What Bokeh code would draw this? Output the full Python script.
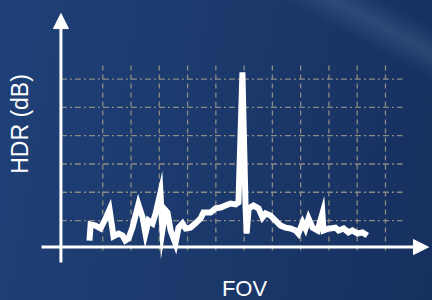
import math
from bokeh.plotting import figure
from bokeh.models import Arrow, NormalHead, Label, GlobalInlineStyleSheet
from bokeh.embed import file_html
from bokeh.resources import INLINE

# ---- data (grid units) ----
fov = [0.53, 0.57, 0.74, 0.92, 1.10, 1.24, 1.38, 1.56, 1.70, 1.80, 1.91, 2.05, 2.26, 2.41,
       2.51, 2.62, 2.76, 2.87, 3.04, 3.11, 3.22, 3.29, 3.40, 3.57, 3.68, 3.82, 3.93, 4.10,
       4.28, 4.46, 4.56, 4.81, 4.99, 5.17, 5.34, 5.52, 5.70, 5.80, 5.94, 6.05, 6.09, 6.16,
       6.33, 6.51, 6.65, 6.76, 6.93, 7.04, 7.29, 7.46, 7.64, 7.82, 7.92, 8.07, 8.17, 8.28,
       8.42, 8.60, 8.77, 8.81, 8.99, 9.06, 9.23, 9.34, 9.52, 9.69, 9.83, 10.01, 10.19, 10.36]
hdr = [0.29, 0.86, 0.82, 0.72, 1.07, 1.39, 0.44, 0.54, 0.47, 0.29, 0.36, 0.75, 1.57, 1.11,
       0.54, 1.00, 0.90, 1.25, 1.99, 0.65, 1.36, 1.28, 0.65, 0.19, 0.75, 0.90, 0.72, 0.75,
       0.90, 1.07, 1.28, 1.28, 1.43, 1.46, 1.53, 1.60, 1.57, 1.64, 6.24, 1.53, 0.54, 1.43,
       1.53, 1.43, 1.11, 1.25, 1.18, 1.07, 0.82, 0.75, 0.72, 0.65, 0.54, 0.93, 0.72, 1.07,
       0.75, 0.65, 1.25, 0.65, 0.72, 0.72, 0.75, 0.65, 0.72, 0.58, 0.65, 0.54, 0.58, 0.47]
grid_x = [1, 2, 3, 4, 5, 6, 7, 8, 9, 10, 11]
grid_y = [1, 2, 3, 4, 5, 6]

W, H = 432, 300
UNIT = 28.27          # pixels per grid unit
X0_PX, Y0_PX = 74.0, 248.3   # pixel position of data origin

x_start = -X0_PX / UNIT
x_end = (W - X0_PX) / UNIT
y_end = Y0_PX / UNIT
y_start = -(H - Y0_PX) / UNIT

p = figure(width=W, height=H, output_backend="svg", toolbar_location=None,
           x_range=(x_start, x_end), y_range=(y_start, y_end), min_border=0)
p.xaxis.visible = False
p.yaxis.visible = False
p.grid.visible = False
p.outline_line_color = None
p.background_fill_alpha = 0
p.border_fill_alpha = 0

css = """
html, body { margin: 0; padding: 0; overflow: hidden;
  background:
    linear-gradient(28deg, rgba(0,0,0,0) 85%, rgba(95,120,165,0.30) 90%, rgba(0,0,0,0) 95%),
    linear-gradient(100deg, #1f4077 0%, #1b386a 55%, #16305f 100%); }
"""
p.stylesheets = [GlobalInlineStyleSheet(css=css)]

grid_col = "#8d8b86"
axis_x = -0.48
axis_y = 0.06
# vertical grid
p.segment(x0=grid_x, y0=[-0.06] * len(grid_x), x1=grid_x, y1=[6.55] * len(grid_x),
          line_color=grid_col, line_width=1.3, line_dash="5 4")
# horizontal grid
p.segment(x0=[axis_x] * len(grid_y), y0=grid_y, x1=[11.6] * len(grid_y), y1=grid_y,
          line_color=grid_col, line_width=1.3, line_dash="6 3 2 3")

# axes with arrow heads
p.add_layout(Arrow(end=NormalHead(size=15, fill_color="white", line_color="white", line_width=1),
                   x_start=-1.167, y_start=axis_y, x_end=12.52, y_end=axis_y,
                   line_color="white", line_width=3))
p.add_layout(Arrow(end=NormalHead(size=15, fill_color="white", line_color="white", line_width=1),
                   x_start=axis_x, y_start=-0.485, x_end=axis_x, y_end=8.32,
                   line_color="white", line_width=3))

# data line
p.line(fov, hdr, line_color="white", line_width=6, line_join="miter")

p.add_layout(Label(x=19, y=H - 123.5, x_units="screen", y_units="screen", text="HDR (dB)",
                   angle=math.pi / 2, text_align="center", text_baseline="middle",
                   text_color="white", text_font="Liberation Sans", text_font_size="23px"))
p.add_layout(Label(x=244, y=H - 275, x_units="screen", y_units="screen", text="FOV",
                   text_align="center", text_baseline="top",
                   text_color="white", text_font="Liberation Sans", text_font_size="22px"))

open("out.html", "w").write(file_html(p, INLINE))
